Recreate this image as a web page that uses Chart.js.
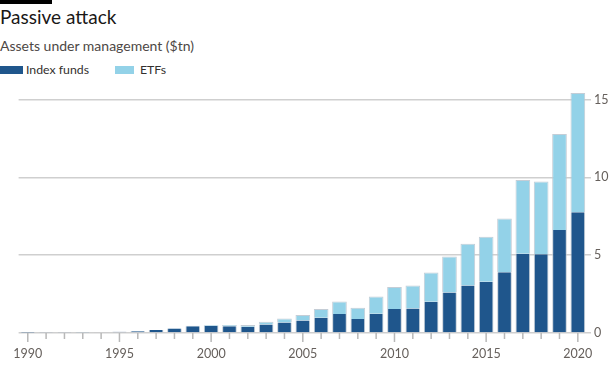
<!DOCTYPE html>
<html>
<head>
<meta charset="utf-8">
<script src="https://cdn.jsdelivr.net/npm/chart.js@4/dist/chart.umd.min.js"></script>
<style>
  html, body { margin: 0; padding: 0; background: #fff; }
  body { width: 613px; height: 374px; position: relative; overflow: hidden; font-family: Lato, "Open Sans", sans-serif; }
  #topbar { position: absolute; left: 0; top: 0; width: 52px; height: 4px; background: #000; }
  #title { position: absolute; left: 0; top: 5px; font-size: 19px; color: #1a1817; white-space: nowrap; }
  #subtitle { position: absolute; left: 0; top: 37px; font-size: 14px; color: #4d4845; white-space: nowrap; }
  .leg { position: absolute; top: 62px; font-size: 12.3px; color: #33302e; white-space: nowrap; }
  .sw { position: absolute; top: 66px; height: 8px; }
  #chart { position: absolute; left: 0; top: 0; }
</style>
</head>
<body>
<div id="topbar"></div>
<div id="title">Passive attack</div>
<div id="subtitle">Assets under management ($tn)</div>
<div class="sw" style="left:0;width:23px;background:#1f568c"></div>
<div class="leg" style="left:26px">Index funds</div>
<div class="sw" style="left:115px;width:19px;background:#93d2e8"></div>
<div class="leg" style="left:140px">ETFs</div>
<canvas id="chart" width="613" height="374"></canvas>
<script>
// Passive fund assets, $tn
const years = [];
for (let y = 1990; y <= 2020; y++) years.push(String(y));

const indexFunds = [0.02, 0.03, 0.04, 0.04, 0.05, 0.08, 0.12, 0.19, 0.29, 0.44,
  0.47, 0.44, 0.40, 0.55, 0.68, 0.80, 0.98, 1.22, 0.90, 1.24,
  1.54, 1.58, 2.01, 2.60, 3.05, 3.29, 3.91, 5.10, 5.06, 6.62, 7.76];

const etfs = [0, 0, 0, 0.01, 0.01, 0.01, 0.01, 0.01, 0.02, 0.03,
  0.05, 0.08, 0.11, 0.18, 0.25, 0.36, 0.56, 0.81, 0.72, 1.11,
  1.41, 1.47, 1.87, 2.31, 2.69, 2.90, 3.44, 4.73, 4.68, 6.16, 7.66];

const yTicks = [0, 5, 10, 15];

const gray = "#cfcfcf";
const tickText = "#66605c";
const font = { family: "Lato, 'Open Sans', sans-serif", size: 12.5 };

// longer tick marks every five years
const majorTicks = {
  id: "majorTicks",
  afterDraw(chart) {
    const x = chart.scales.x;
    const ctx = chart.ctx;
    const y0 = chart.chartArea.bottom;
    ctx.save();
    ctx.strokeStyle = "#b8b8b8";
    ctx.lineWidth = 1.5;
    years.forEach((yr, i) => {
      const px = x.getPixelForValue(i);
      const len = Number(yr) % 5 === 0 ? 9 : 6;
      ctx.beginPath();
      ctx.moveTo(px, y0);
      ctx.lineTo(px, y0 + len);
      ctx.stroke();
    });
    ctx.restore();
  },
};

new Chart(document.getElementById("chart"), {
  type: "bar",
  data: {
    labels: years,
    datasets: [
      {
        label: "Index funds",
        data: indexFunds,
        backgroundColor: "#1f568c",
        borderColor: "rgba(190,200,210,0.9)",
        borderWidth: { left: 1, right: 1, top: 0, bottom: 0 },
        borderSkipped: false,
      },
      {
        label: "ETFs",
        data: etfs,
        backgroundColor: "#93d2e8",
        borderColor: "rgba(190,200,210,0.9)",
        borderWidth: { left: 1, right: 1, top: 1, bottom: 0 },
        borderSkipped: false,
      },
    ],
  },
  options: {
    responsive: false,
    animation: false,
    barPercentage: 1,
    categoryPercentage: 0.8,
    layout: { padding: { top: 84, left: 17, right: 0, bottom: 0 } },
    plugins: { legend: { display: false }, tooltip: { enabled: false } },
    scales: {
      x: {
        stacked: true,
        grid: { display: false, drawTicks: false },
        border: { display: false },
        ticks: {
          autoSkip: false,
          maxRotation: 0,
          padding: 13,
          color: tickText,
          font,
          callback: (v, i) => (Number(years[i]) % 5 === 0 ? years[i] : ""),
        },
        afterFit: (axis) => { axis.height = 41; },
      },
      y: {
        stacked: true,
        position: "right",
        min: 0,
        max: 16,
        afterBuildTicks: (axis) => { axis.ticks = yTicks.map((v) => ({ value: v })); },
        grid: { color: gray, lineWidth: 1.5, tickLength: 4, drawOnChartArea: true },
        border: { display: false },
        ticks: { color: tickText, font, padding: 3 },
        afterFit: (axis) => { axis.width = 26; },
      },
    },
  },
  plugins: [majorTicks],
});
</script>
</body>
</html>
